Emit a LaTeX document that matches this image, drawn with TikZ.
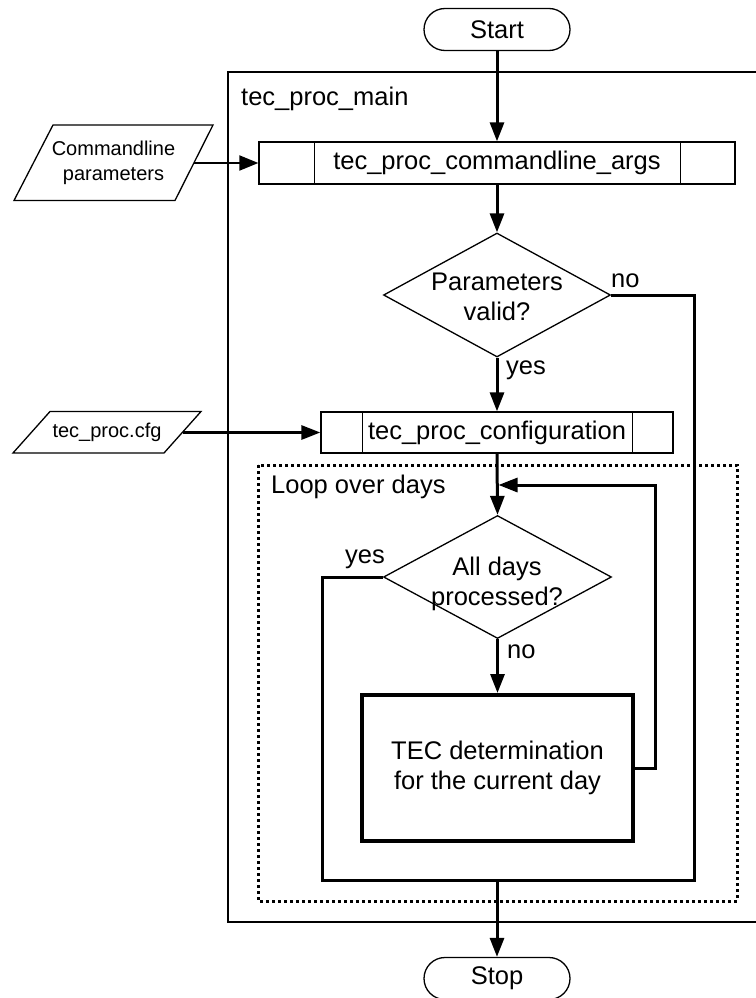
\documentclass[tikz,border=0pt]{standalone}
\usepackage{fontspec}
\setmainfont{Liberation Sans}
\usetikzlibrary{arrows.meta,shapes.geometric,shapes.misc}

\newcommand\fcmain{\fontsize{25.5}{30}\selectfont}
\newcommand\fcsmall{\fontsize{20}{25}\selectfont}

\begin{document}
\begin{tikzpicture}[x=1pt,y=-1pt,
  thinline/.style={line width=1.3pt},
  terminal/.style={rounded rectangle, draw, line width=1.3pt,
    minimum width=146pt, minimum height=42pt, inner sep=0pt, font=\fcmain},
  subproc/.style={rectangle, draw, line width=1.3pt, minimum height=42pt,
    inner sep=0pt, font=\fcmain},
  decision/.style={diamond, draw, line width=1.3pt, inner sep=0pt},
  process/.style={rectangle, draw, line width=4pt, inner sep=0pt,
    minimum width=271pt, minimum height=146pt, align=center, font=\fcmain},
  txt/.style={inner sep=0pt, font=\fcmain},
  conn/.style={line width=3pt, line join=miter},
  flow/.style={line width=3pt, line join=miter, -{Triangle[length=19pt,width=14pt]}},
  thinflow/.style={line width=2pt, -{Triangle[length=19pt,width=15pt]}},
  dotframe/.style={line width=3pt, dash pattern=on 3pt off 3pt},
]
\useasboundingbox (0,0) rectangle (755,998);
\fill[white] (0,0) rectangle (755,998);

% outer frame of the main routine (open to the right)
\draw[thinline] (762,72) -- (228,72) -- (228,922) -- (762,922);
\node[txt, anchor=base west] (mainlbl) at (241,105) {tec\_proc\_main};

% loop frame
\draw[dotframe] (258,465) rectangle (737,901);
\node[txt, anchor=base west] (looplbl) at (271,493) {Loop over days};

% terminals
\node[terminal] (start) at (497,29.5) {Start};
\node[terminal] (stop) at (497,978.5) {Stop};

% input data
\draw[thinline] (53,125) -- (213,125) -- (175,200.5) -- (14,200.5) -- cycle;
\node[inner sep=0pt, font=\fcsmall, align=center] (cmdl) at (113.5,162.5) {Commandline\\parameters};
\coordinate (cmdlout) at (194,163);

\draw[thinline] (50,411.5) -- (201,411.5) -- (164,453) -- (13,453) -- cycle;
\node[inner sep=0pt, font=\fcsmall] (cfgfile) at (107,432.5) {tec\_proc.cfg};
\coordinate (cfgout) at (182.5,432.5);

% sub-processes
\node[subproc, minimum width=476pt] (cla) at (497,163) {tec\_proc\_commandline\_args};
\draw[thinline] ([xshift=56pt]cla.north west) -- ([xshift=56pt]cla.south west);
\draw[thinline] ([xshift=-55pt]cla.north east) -- ([xshift=-55pt]cla.south east);

\node[subproc, minimum width=352pt, minimum height=41pt] (cfg) at (497,432.5) {tec\_proc\_configuration};
\draw[thinline] ([xshift=42pt]cfg.north west) -- ([xshift=42pt]cfg.south west);
\draw[thinline] ([xshift=-41pt]cfg.north east) -- ([xshift=-41pt]cfg.south east);

% decisions
\node[decision, minimum width=227pt, minimum height=124pt] (d1) at (497,295) {};
\node[txt, align=center] (d1t) at (497,297) {Parameters\\valid?};
\node[decision, minimum width=228pt, minimum height=123pt] (d2) at (497.5,577) {};
\node[txt, align=center] (d2t) at (497,584) {All days\\processed?};

% daily processing
\node[process] (tec) at (497.5,768) {TEC determination\\for the current day};

% junction points
\coordinate (jl) at (322,880);
\coordinate (jr) at (694,880);
\coordinate (jm) at (497,880);
\coordinate (lb) at (655,485);
\coordinate (lin) at (498.5,485);

% connectors
\draw[flow] (start.south) -- (cla.north);
\draw[thinflow] (cmdlout) -- (cla.west);
\draw[flow] (cla.south) -- (d1.north);
\draw[flow] (d1.south) -- (cfg.north);
\draw[flow] (cfgout) -- (cfg.west);
\draw[flow] (cfg.south) -- (d2.north);
\draw[flow] (d2.south) -- (tec.north);
\draw[flow] (tec.east) -| (lb) -- (lin);
\draw[conn] (d2.west) -| (jl) -- (jr) |- (d1.east);
\draw[flow] (jm) -- (stop.north);

% branch labels
\node[txt, anchor=base west] (d1no) at (611,287) {no};
\node[txt, anchor=base west] (d1yes) at (506,374) {yes};
\node[txt, anchor=base west] (d2yes) at (345,563) {yes};
\node[txt, anchor=base west] (d2no) at (507,658) {no};
\end{tikzpicture}
\end{document}
